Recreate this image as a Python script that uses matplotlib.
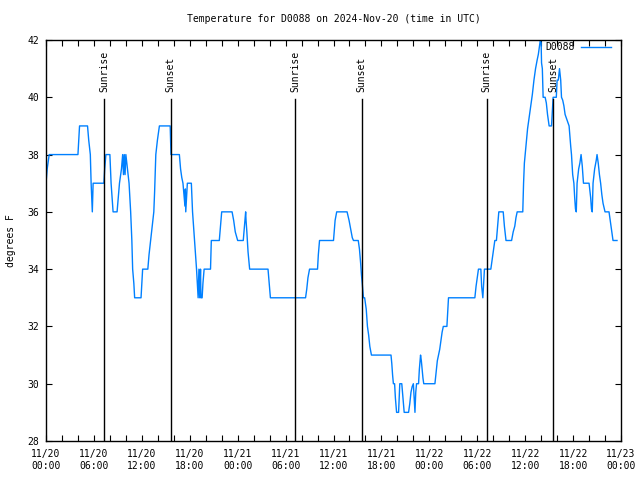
import pandas as pd
import matplotlib
matplotlib.use('Agg')
import matplotlib.pyplot as plt
import matplotlib.dates as mdates

# hours after 2024-11-20 00:00 UTC and the temperature read at that time
hours = [0.0, 0.15, 0.4, 4.0, 4.2, 5.2, 5.35, 5.55, 5.65, 5.8, 5.9, 6.1, 7.25, 7.35, 7.5, 8.0, 8.15, 8.4,
         8.9, 9.05, 9.2, 9.45, 9.6, 9.7, 9.8, 9.9, 10.0, 10.2, 10.4, 10.6, 10.75, 10.85, 11.0, 11.1,
         11.9, 12.0, 12.1, 12.75, 12.9, 13.1, 13.3, 13.5, 13.6, 13.75, 13.95, 14.2, 15.55, 15.6, 15.65,
         16.7, 16.85, 17.0, 17.15, 17.3, 17.4, 17.45, 17.5, 17.7, 18.2, 18.35, 18.5, 18.7, 18.85, 18.95,
         19.05, 19.15, 19.25, 19.35, 19.4, 19.55, 19.65, 19.8, 20.6, 20.7, 21.7, 21.85, 22.0, 23.3, 23.5,
         23.7, 23.9, 24.0, 24.7, 24.85, 25.0, 25.05, 25.15, 25.3, 25.5, 27.8, 27.95, 28.1,
         32.5, 32.65, 32.8, 33.0, 34.0, 34.1, 34.25, 36.0, 36.2, 36.4, 37.7, 37.95, 38.15, 38.35, 38.5,
         39.1, 39.25, 39.4, 39.5, 39.6, 39.75, 39.9, 40.1, 40.25, 40.4, 40.55, 40.75, 43.2, 43.3, 43.4,
         43.5, 43.65, 43.75, 43.9, 44.15, 44.3, 44.55, 44.7, 44.85, 45.4, 45.55, 45.7, 45.85, 46.0, 46.1,
         46.2, 46.3, 46.4, 46.65, 46.75, 46.9, 47.0, 47.1, 47.2, 47.3, 48.7, 48.85, 49.0, 49.15, 49.3,
         49.45, 49.6, 49.75, 50.2, 50.3, 50.4,
         53.7, 53.85, 54.0, 54.15, 54.45, 54.55, 54.7, 54.9, 55.7, 55.85, 56.0, 56.2, 56.4, 56.55, 56.7,
         57.25, 57.4, 57.6, 58.3, 58.5, 58.7, 58.85, 59.0, 59.7, 59.8, 59.9, 60.1, 60.3, 60.5, 60.7, 60.9,
         61.1, 61.3, 61.5, 61.65, 61.9, 62.0, 62.05, 62.15, 62.25, 62.5, 62.65, 62.8, 63.0, 63.3, 63.4,
         63.5, 63.9, 64.0, 64.15, 64.3, 64.45, 64.55, 64.7, 64.85, 65.0, 65.25, 65.5, 65.7, 65.8, 65.95,
         66.1, 66.2, 66.3, 66.4, 66.5, 66.7, 66.85, 67.0, 67.15, 67.3, 68.0, 68.2, 68.3, 68.4, 68.5, 68.7,
         68.9, 69.0, 69.15, 69.3, 69.45, 69.6, 69.75, 70.0, 70.5, 70.65, 70.85, 71.0, 71.5]
temps = [37, 37.5, 38, 38, 39, 39, 38.5, 38, 37, 36, 37, 37, 37, 37.5, 38, 38, 37, 36,
         36, 36.5, 37, 37.5, 38, 37.3, 38, 37.3, 38, 37.5, 37, 36, 35, 34, 33.5, 33,
         33, 33.5, 34, 34, 34.5, 35, 35.5, 36, 36.7, 38, 38.5, 39, 39, 38.5, 38,
         38, 37.5, 37.2, 37, 36.5, 36.2, 36.8, 36, 37, 37, 36, 35.4, 34.6, 34, 33.5,
         33, 34, 33, 34, 33, 33, 33.5, 34, 34, 35, 35, 35.5, 36, 36, 35.7,
         35.3, 35.1, 35, 35, 35.5, 36, 35.7, 35.3, 34.6, 34, 34, 33.5, 33,
         33, 33.3, 33.7, 34, 34, 34.5, 35, 35, 35.7, 36, 36, 35.7, 35.4, 35.1, 35,
         35, 34.7, 34.2, 33.8, 33.5, 33, 33, 32.6, 32, 31.7, 31.3, 31, 31, 30.7, 30.3,
         30, 30, 29.5, 29, 29, 30, 30, 29.5, 29, 29, 29.3, 29.7, 29.9, 30, 29.5,
         29, 29.7, 30, 30, 30.5, 31, 30.8, 30.5, 30.2, 30, 30, 30.4, 30.8, 31, 31.2,
         31.5, 31.8, 32, 32, 32.5, 33,
         33, 33.4, 33.7, 34, 34, 33.4, 33, 34, 34, 34.3, 34.6, 35, 35, 35.5, 36,
         36, 35.5, 35, 35, 35.3, 35.5, 35.8, 36, 36, 37, 37.7, 38.3, 38.9, 39.3, 39.7, 40.1,
         40.6, 41.0, 41.3, 41.5, 42, 41.9, 41.2, 41, 40, 40, 39.8, 39.4, 39, 39, 39.5,
         40, 40, 40.6, 40.6, 41, 40.6, 40, 39.9, 39.7, 39.4, 39.2, 39, 38.3, 38, 37.3,
         37, 36.5, 36.1, 36, 37, 37.5, 37.7, 38, 37.6, 37, 37, 36.5, 36.1, 36, 37, 37.5,
         37.8, 38, 37.7, 37.3, 37, 36.6, 36.3, 36, 36, 35.7, 35.3, 35, 35]

sunrise_hours = [7.25, 31.17, 55.2]
sunset_hours = [15.62, 39.54, 63.54]

start = pd.Timestamp('2024-11-20 00:00')
times = start + pd.to_timedelta(hours, unit='h')
sunrise = start + pd.to_timedelta(sunrise_hours, unit='h')
sunset = start + pd.to_timedelta(sunset_hours, unit='h')

font = 'DejaVu Sans Mono'
fs = 7

fig = plt.figure(figsize=(6.4, 4.8), dpi=100)
ax = fig.add_axes([46 / 640, 1 - 441 / 480, 575 / 640, 401 / 480])

ax.plot(times, temps, color='#0080ff', lw=1.0, label='D0088')

# sunrise / sunset markers
for t, name in [(s, 'Sunrise') for s in sunrise] + [(s, 'Sunset') for s in sunset]:
    ax.plot([t, t], [28, 39.95], color='black', lw=1.0)
    ax.text(t, 40.2, name, rotation=90, ha='center', va='bottom', fontsize=fs, family=font)

ax.set_xlim(start, start + pd.Timedelta(hours=72))
ax.set_ylim(28, 42)
ax.set_yticks(range(28, 43, 2))

ax.xaxis.set_major_locator(mdates.HourLocator(byhour=range(0, 24, 6)))
ax.xaxis.set_minor_locator(mdates.HourLocator(byhour=range(0, 24, 2)))
ax.xaxis.set_major_formatter(mdates.DateFormatter('%m/%d\n%H:%M'))

ax.tick_params(which='both', direction='in', top=True, right=True, length=4.5, width=0.8,
               labelsize=fs)
ax.tick_params(axis='x', pad=6)
ax.tick_params(axis='y', pad=5)
for lab in ax.get_xticklabels() + ax.get_yticklabels():
    lab.set_family(font)
for s in ax.spines.values():
    s.set_linewidth(1.0)

ax.set_title('Temperature for D0088 on 2024-Nov-20 (time in UTC)', fontsize=fs, family=font, pad=13)
ax.set_ylabel('degrees F', fontsize=fs, family=font, labelpad=8)

ax.legend(loc='upper right', bbox_to_anchor=(0.982, 0.995), frameon=False, markerfirst=False,
          handlelength=3.0, handletextpad=0.7, borderaxespad=0, borderpad=0,
          prop={'family': font, 'size': fs})

fig.savefig('out.png', dpi=100)
